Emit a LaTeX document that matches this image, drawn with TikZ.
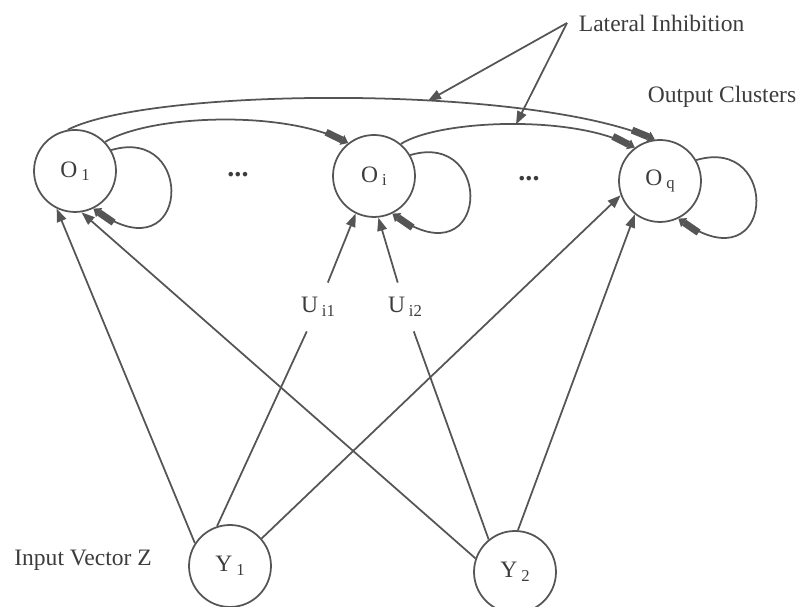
\documentclass[tikz,border=0pt]{standalone}
\usepackage{fontspec}
\setmainfont{Liberation Serif}
\usetikzlibrary{arrows.meta}
\definecolor{inkgray}{RGB}{85,85,85}
\definecolor{textgray}{RGB}{60,60,60}
\newcommand{\ix}[1]{\,\raisebox{-2pt}{\fontsize{9.5}{10}\selectfont #1}}

\begin{document}
\begin{tikzpicture}[x=0.02cm, y=0.02cm, line width=1pt, color=inkgray,
  every node/.style={text=textgray, font=\fontsize{13.4}{16}\selectfont},
  neuron/.style={circle, draw=inkgray, minimum size=1.64cm, inner sep=0pt},
  lbl/.style={inner sep=0pt},
  wt/.style={inner xsep=4pt, inner ysep=8pt},
  feed/.style={-{Triangle[length=7.5pt,width=5.5pt]}},
  fat/.style={-{Rectangle[length=10pt,width=4pt,sep=0pt]Triangle[length=4pt,width=6pt]}}]
\useasboundingbox (0,0) rectangle (802,607);

\node[neuron] (O1) at (75,436) {O\ix{1}};
\node[neuron] (Oi) at (374,431) {O\ix{i}};
\node[neuron] (Oq) at (660,426) {O\ix{q}};
\node[neuron] (Y1) at (230,41) {Y\ix{1}};
\node[neuron] (Y2) at (515,35) {Y\ix{2}};

\node (d1) at (238,432) {\fontsize{16}{16}\selectfont\textbf{...}};
\node (d2) at (529,428) {\fontsize{16}{16}\selectfont\textbf{...}};

\node[lbl, anchor=west] (lat) at (578,584) {Lateral Inhibition};
\node[lbl] (out) at (722,510) {Output Clusters};
\node[lbl] (inp) at (83,47) {Input Vector Z};
\node[wt] (Ui1) at (318,300) {U\ix{i1}};
\node[wt] (Ui2) at (405,300) {U\ix{i2}};

\draw[fat] (O1.100) .. controls +(82,42) and +(-135,55) .. (Oq.97) coordinate[pos=0.62] (h1);
\draw[fat] (O1.44) .. controls +(45,27) and +(-68,33) .. (Oi.128);
\draw[fat] (Oi.50) .. controls +(38,24) and +(-65,33) .. (Oq.127) coordinate[pos=0.53] (h2);
\draw[feed] ([xshift=-0.22cm]lat.west) -- (h1);
\draw[feed] ([xshift=-0.22cm]lat.west) -- (h2);

\foreach \n in {O1,Oi,Oq}
  \draw[fat] (\n.30) .. controls +(85,25) and +(97,-67) .. (\n.-64);

\draw[feed] (Y1.147) -- (O1.-116);
\draw[feed] (Y2.161) -- (O1.-81);
\draw (Y1.108) -- (Ui1);
\draw[feed] (Ui1) -- (Oi.-116);
\draw (Y2.129) -- (Ui2);
\draw[feed] (Ui2) -- (Oi.-84);
\draw[feed] (Y1.41) -- (Oq.200);
\draw[feed] (Y2.86) -- (Oq.-127);

\end{tikzpicture}
\end{document}
